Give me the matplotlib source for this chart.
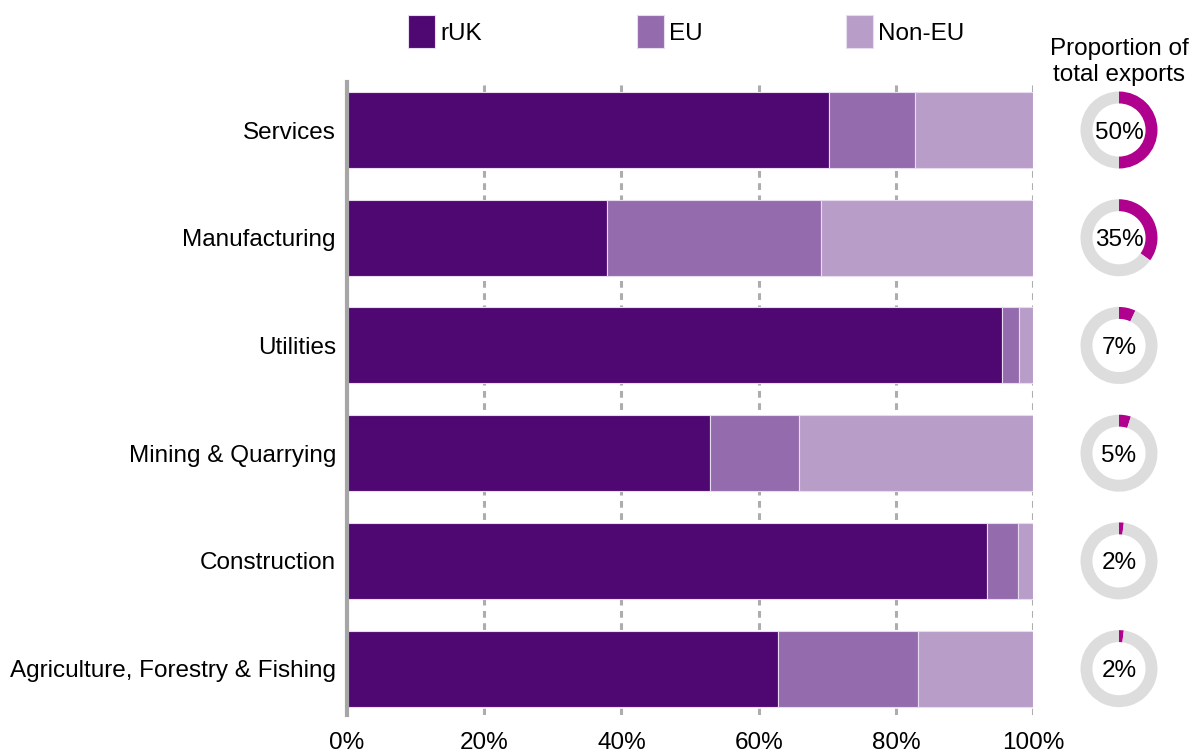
import matplotlib.pyplot as plt
from matplotlib.patches import Rectangle

plt.rcParams['font.family'] = ['Liberation Sans', 'DejaVu Sans']

sectors = ["Services", "Manufacturing", "Utilities", "Mining & Quarrying",
           "Construction", "Agriculture, Forestry & Fishing"]
ruk = [70.3, 37.9, 95.5, 52.9, 93.3, 62.8]
eu = [12.5, 31.2, 2.5, 13.0, 4.5, 20.4]
non_eu = [17.2, 30.9, 2.0, 34.1, 2.2, 16.8]
share_of_exports = [50, 35, 7, 5, 2, 2]
series_names = ["rUK", "EU", "Non-EU"]

c_ruk = "#4F0872"
c_eu = "#946BAD"
c_noneu = "#B89DC9"
c_share = "#B0008E"
c_rest = "#DDDDDD"
edge = "#E8DDF0"
fs = 17.5

fig = plt.figure(figsize=(11.98, 7.53), dpi=100)
ax = fig.add_axes([0.2897, 0.0505, 0.5726, 0.8405])

ypos = list(range(len(sectors)))
left_non = [r + e for r, e in zip(ruk, eu)]
kw = dict(height=0.705, edgecolor=edge, linewidth=0.8, zorder=3)
ax.barh(ypos, ruk, color=c_ruk, **kw)
ax.barh(ypos, eu, left=ruk, color=c_eu, **kw)
ax.barh(ypos, non_eu, left=left_non, color=c_noneu, **kw)

ax.set_xlim(0, 100)
ax.set_ylim(5.43, -0.445)
ax.set_yticks(ypos)
ax.set_yticklabels(sectors, fontsize=fs, va="center_baseline")
ax.set_xticks([0, 20, 40, 60, 80, 100])
ax.set_xticklabels([f"{v}%" for v in [0, 20, 40, 60, 80, 100]], fontsize=fs)
ax.tick_params(length=0)
ax.tick_params(axis='x', pad=12)
ax.tick_params(axis='y', pad=8)

for x in [20, 40, 60, 80, 100]:
    ax.axvline(x, color="#ADADAD", lw=2.2, ls=(0, (2.2, 1.8)), zorder=1)

for s in ["top", "right", "bottom"]:
    ax.spines[s].set_visible(False)
ax.spines["left"].set_color("#A6A6A6")
ax.spines["left"].set_linewidth(3)
ax.spines["left"].set_zorder(4)

# legend: coloured squares with names along the top
W, H = fig.get_size_inches() * fig.dpi
legend_x = [408, 637, 846]
for x0, name, col in zip(legend_x, series_names, [c_ruk, c_eu, c_noneu]):
    fig.patches.append(Rectangle((x0 / W, 1 - 48 / H), 27 / W, 33 / H,
                                 facecolor=col, edgecolor=edge, lw=0.8,
                                 transform=fig.transFigure, figure=fig))
    fig.text((x0 + 32) / W, 1 - 32 / H, name, ha="left",
             va="center_baseline", fontsize=fs)

fig.text(1119 / W, 1 - 62 / H, "Proportion of\ntotal exports", ha="center",
         va="center", fontsize=fs, linespacing=1.25)

# donut per sector, placed at the bar's vertical position
fig.canvas.draw()
to_fig = fig.transFigure.inverted()
size_px = 77
for i, share in enumerate(share_of_exports):
    _, yc = to_fig.transform(ax.transData.transform((0, i)))
    xc = 1119 / W
    w = size_px / W
    h = size_px / H
    dax = fig.add_axes([xc - w / 2, yc - h / 2, w, h])
    dax.pie([share, 100 - share], colors=[c_share, c_rest], startangle=90,
            counterclock=False, wedgeprops=dict(width=0.31, linewidth=0))
    dax.text(0, 0, f"{share}%", ha="center", va="center_baseline",
             fontsize=fs)
    dax.set_xlim(-1, 1)
    dax.set_ylim(-1, 1)
    dax.set_aspect("equal")

fig.savefig("out.png", dpi=100)
